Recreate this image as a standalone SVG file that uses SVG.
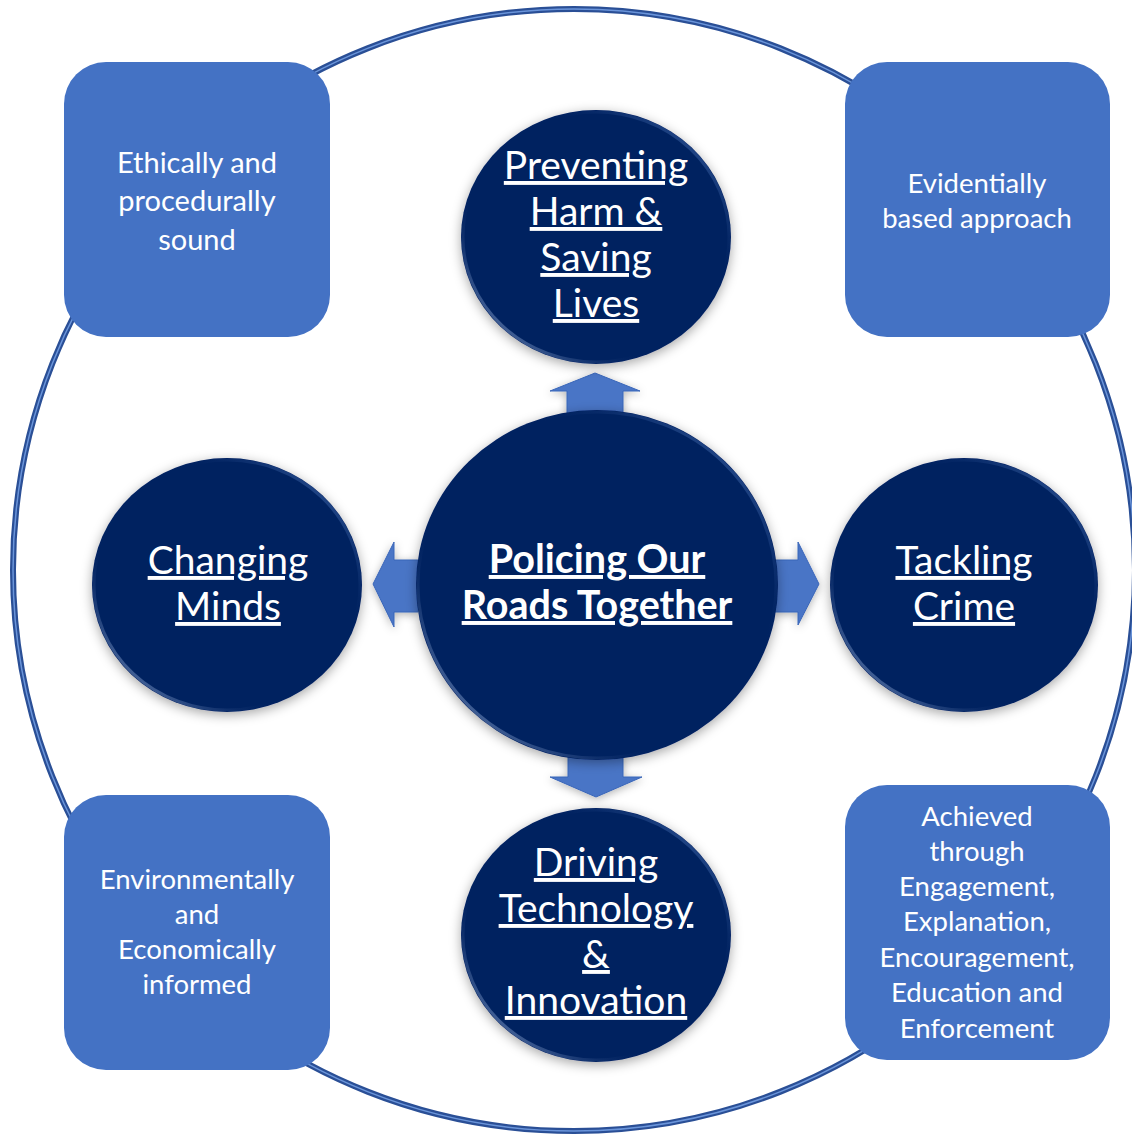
<svg xmlns="http://www.w3.org/2000/svg" width="1132" height="1138" viewBox="0 0 1132 1138">
<defs>
<style>
.box{fill:#4472C4;}
.bt{font-family:Lato,"Noto Sans",sans-serif;fill:#fff;text-anchor:middle;font-size:29px;}
.bs{font-family:Lato,"Noto Sans",sans-serif;fill:#fff;text-anchor:middle;font-size:27.5px;}
.ct{font-family:Lato,"Noto Sans",sans-serif;fill:#fff;text-anchor:middle;font-size:39px;text-decoration:underline;}
.cb{font-family:Lato,"Noto Sans",sans-serif;fill:#fff;text-anchor:middle;font-size:39.5px;font-weight:bold;text-decoration:underline;}
.disc{fill:#002060;filter:url(#sh);}
.rim{fill:none;stroke:url(#rimg);stroke-width:3;}
.arr{fill:#4874C6;stroke:#3A66B8;stroke-width:1;filter:url(#sh2);}
</style>
<filter id="sh" x="-20%" y="-20%" width="140%" height="140%">
<feDropShadow dx="0" dy="3" stdDeviation="6" flood-color="#000" flood-opacity="0.35"/>
</filter>
<filter id="sh2" x="-30%" y="-30%" width="160%" height="160%">
<feDropShadow dx="0" dy="2" stdDeviation="4" flood-color="#000" flood-opacity="0.3"/>
</filter>
<linearGradient id="rimg" x1="1" y1="0" x2="0" y2="1">
<stop offset="0" stop-color="#6F9BE0" stop-opacity="0.8"/>
<stop offset="0.35" stop-color="#002060" stop-opacity="0"/>
<stop offset="0.65" stop-color="#002060" stop-opacity="0"/>
<stop offset="1" stop-color="#B8D0F5" stop-opacity="1"/>
</linearGradient>
</defs>
<rect width="1132" height="1138" fill="#fff"/>

<g id="ring">
<circle cx="574" cy="570" r="561" fill="none" stroke="#2A4F96" stroke-width="6"/>
<circle cx="574" cy="570" r="561" fill="none" stroke="#6B95DA" stroke-width="1.5"/>
</g>

<g id="connectors">
<polygon class="arr" points="550,391 595,373 640,391 623,391 623,415 567,415 567,391"/>
<polygon class="arr" points="373,584 394,542 394,560 418,560 418,612 394,612 394,627"/>
<polygon class="arr" points="774,560 798,560 798,542 819,584 798,625 798,612 774,612"/>
<polygon class="arr" points="568,755 623,755 623,777 642,777 596,797 550,777 568,777"/>
</g>

<g id="box-tl">
<rect class="box" x="64" y="62" width="266" height="275" rx="42"/>
<text class="bt" x="197" y="173">Ethically and</text>
<text class="bt" x="197" y="211">procedurally</text>
<text class="bt" x="197" y="250">sound</text>
</g>
<g id="box-tr">
<rect class="box" x="845" y="62" width="265" height="275" rx="42"/>
<text class="bs" x="977" y="193">Evidentially</text>
<text class="bs" x="977" y="228">based approach</text>
</g>
<g id="box-bl">
<rect class="box" x="64" y="795" width="266" height="275" rx="42"/>
<text class="bs" x="197" y="889">Environmentally</text>
<text class="bs" x="197" y="924">and</text>
<text class="bs" x="197" y="959">Economically</text>
<text class="bs" x="197" y="994">informed</text>
</g>
<g id="box-br">
<rect class="box" x="845" y="785" width="265" height="275" rx="42"/>
<text class="bs" x="977" y="826">Achieved</text>
<text class="bs" x="977" y="861">through</text>
<text class="bs" x="977" y="896">Engagement,</text>
<text class="bs" x="977" y="931">Explanation,</text>
<text class="bs" x="977" y="967">Encouragement,</text>
<text class="bs" x="977" y="1002">Education and</text>
<text class="bs" x="977" y="1038">Enforcement</text>
</g>

<g id="circle-top">
<ellipse class="disc" cx="596" cy="237" rx="135" ry="127"/>
<ellipse class="rim" cx="596" cy="237" rx="133" ry="125"/>
<text class="ct" x="596" y="179">Preventing</text>
<text class="ct" x="596" y="225">Harm &amp;</text>
<text class="ct" x="596" y="271">Saving</text>
<text class="ct" x="596" y="317">Lives</text>
</g>
<g id="circle-left">
<ellipse class="disc" cx="227" cy="585" rx="135" ry="127"/>
<ellipse class="rim" cx="227" cy="585" rx="133" ry="125"/>
<text class="ct" x="228" y="574">Changing</text>
<text class="ct" x="228" y="620">Minds</text>
</g>
<g id="circle-right">
<ellipse class="disc" cx="964" cy="585" rx="134" ry="127"/>
<ellipse class="rim" cx="964" cy="585" rx="132" ry="125"/>
<text class="ct" x="964" y="574">Tackling</text>
<text class="ct" x="964" y="620">Crime</text>
</g>
<g id="circle-bottom">
<ellipse class="disc" cx="596" cy="935" rx="135" ry="127"/>
<ellipse class="rim" cx="596" cy="935" rx="133" ry="125"/>
<text class="ct" x="596" y="876">Driving</text>
<text class="ct" x="596" y="922">Technology</text>
<text class="ct" x="596" y="968">&amp;</text>
<text class="ct" x="596" y="1014">Innovation</text>
</g>
<g id="circle-center">
<ellipse class="disc" cx="597" cy="585" rx="181" ry="175"/>
<ellipse class="rim" cx="597" cy="585" rx="179" ry="173"/>
<text class="cb" x="597" y="573">Policing Our</text>
<text class="cb" x="597" y="619">Roads Together</text>
</g>
</svg>
